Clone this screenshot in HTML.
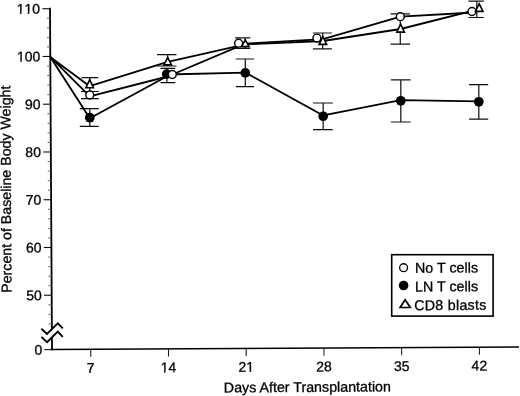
<!DOCTYPE html>
<html><head><meta charset="utf-8"><title>Body weight after transplantation</title>
<style>
html,body{margin:0;padding:0;background:#fff;}
body{width:520px;height:396px;overflow:hidden;font-family:"Liberation Sans",sans-serif;}
svg{display:block;}
</style></head><body>
<svg width="520" height="396" viewBox="0 0 520 396">
<defs><filter id="g" filterUnits="userSpaceOnUse" x="0" y="0" width="520" height="396"><feOffset dx="0" dy="0"/></filter></defs>
<rect width="520" height="396" fill="#fff"/>
<filter id="soft" filterUnits="userSpaceOnUse" x="0" y="0" width="520" height="396"><feGaussianBlur stdDeviation="0.4"/></filter>
<g filter="url(#soft)">
<g stroke="#000" fill="none">
<line x1="50.0" y1="7.8" x2="52.0" y2="350.3" stroke-width="1.8"/>
<line x1="51.1" y1="349.6" x2="519.0" y2="346.9" stroke-width="1.5"/>
</g>
<g stroke="#111" stroke-width="1.1">
<line x1="42.40" y1="8.70" x2="50.00" y2="8.70"/>
<line x1="42.68" y1="56.46" x2="50.28" y2="56.46"/>
<line x1="42.96" y1="104.22" x2="50.56" y2="104.22"/>
<line x1="43.24" y1="151.98" x2="50.84" y2="151.98"/>
<line x1="43.52" y1="199.74" x2="51.12" y2="199.74"/>
<line x1="43.80" y1="247.50" x2="51.40" y2="247.50"/>
<line x1="44.08" y1="295.26" x2="51.68" y2="295.26"/>
<line x1="44.40" y1="349.60" x2="52.00" y2="349.60"/>
</g>
<g stroke="#666" stroke-width="1">
<line x1="46.86" y1="18.25" x2="50.06" y2="18.25"/>
<line x1="46.91" y1="27.80" x2="50.11" y2="27.80"/>
<line x1="46.97" y1="37.36" x2="50.17" y2="37.36"/>
<line x1="47.03" y1="46.91" x2="50.23" y2="46.91"/>
<line x1="47.14" y1="66.01" x2="50.34" y2="66.01"/>
<line x1="47.19" y1="75.56" x2="50.39" y2="75.56"/>
<line x1="47.25" y1="85.12" x2="50.45" y2="85.12"/>
<line x1="47.31" y1="94.67" x2="50.51" y2="94.67"/>
<line x1="47.42" y1="113.77" x2="50.62" y2="113.77"/>
<line x1="47.47" y1="123.32" x2="50.67" y2="123.32"/>
<line x1="47.53" y1="132.88" x2="50.73" y2="132.88"/>
<line x1="47.59" y1="142.43" x2="50.79" y2="142.43"/>
<line x1="47.70" y1="161.53" x2="50.90" y2="161.53"/>
<line x1="47.75" y1="171.08" x2="50.95" y2="171.08"/>
<line x1="47.81" y1="180.64" x2="51.01" y2="180.64"/>
<line x1="47.87" y1="190.19" x2="51.07" y2="190.19"/>
<line x1="47.98" y1="209.29" x2="51.18" y2="209.29"/>
<line x1="48.03" y1="218.84" x2="51.23" y2="218.84"/>
<line x1="48.09" y1="228.40" x2="51.29" y2="228.40"/>
<line x1="48.15" y1="237.95" x2="51.35" y2="237.95"/>
<line x1="48.26" y1="257.05" x2="51.46" y2="257.05"/>
<line x1="48.31" y1="266.60" x2="51.51" y2="266.60"/>
<line x1="48.37" y1="276.16" x2="51.57" y2="276.16"/>
<line x1="48.43" y1="285.71" x2="51.63" y2="285.71"/>
<line x1="48.54" y1="304.81" x2="51.74" y2="304.81"/>
<line x1="48.59" y1="314.36" x2="51.79" y2="314.36"/>
<line x1="48.65" y1="323.92" x2="51.85" y2="323.92"/>
</g>
<g stroke="#111" stroke-width="1">
<line x1="90.75" y1="349.38" x2="90.75" y2="356.98"/>
<line x1="168.48" y1="348.93" x2="168.48" y2="356.53"/>
<line x1="246.21" y1="348.48" x2="246.21" y2="356.08"/>
<line x1="323.94" y1="348.03" x2="323.94" y2="355.63"/>
<line x1="401.67" y1="347.58" x2="401.67" y2="355.18"/>
<line x1="479.40" y1="347.13" x2="479.40" y2="354.73"/>
</g>
<polygon points="40,329 47,335.5 57.8,324.5 64,330 64,337 57.8,331.5 47,342.2 40,337" fill="#fff"/>
<g stroke="#000" stroke-width="1.9" fill="none" stroke-linejoin="miter">
<polyline points="41.4,328.7 47,334 57.8,323.3 62.8,328.3"/>
<polyline points="41.4,336.9 47,342.2 57.8,331.5 62.8,336.8"/>
</g>
<g font-family="Liberation Sans, sans-serif" font-size="14px" fill="#000" stroke="#000" stroke-width="0.3" filter="url(#g)">
<g transform="translate(40.00 13.70) rotate(-0.35)"><text text-anchor="end" style="font-kerning:none">110</text><rect x="-23.29" y="-2.05" width="3.25" height="2.75" fill="#fff" stroke="none"/><rect x="-18.40" y="-2.05" width="2.64" height="2.75" fill="#fff" stroke="none"/><rect x="-15.51" y="-2.05" width="3.25" height="2.75" fill="#fff" stroke="none"/><rect x="-10.61" y="-2.05" width="2.64" height="2.75" fill="#fff" stroke="none"/></g>
<g transform="translate(40.31 61.46) rotate(-0.35)"><text text-anchor="end" style="font-kerning:none">100</text><rect x="-23.29" y="-2.05" width="3.25" height="2.75" fill="#fff" stroke="none"/><rect x="-18.40" y="-2.05" width="2.64" height="2.75" fill="#fff" stroke="none"/></g>
<g transform="translate(40.62 109.22) rotate(-0.35)"><text text-anchor="end" style="font-kerning:none">90</text></g>
<g transform="translate(40.93 156.98) rotate(-0.35)"><text text-anchor="end" style="font-kerning:none">80</text></g>
<g transform="translate(41.24 204.74) rotate(-0.35)"><text text-anchor="end" style="font-kerning:none">70</text></g>
<g transform="translate(41.55 252.50) rotate(-0.35)"><text text-anchor="end" style="font-kerning:none">60</text></g>
<g transform="translate(41.86 300.26) rotate(-0.35)"><text text-anchor="end" style="font-kerning:none">50</text></g>
<g transform="translate(42.30 354.60) rotate(-0.35)"><text text-anchor="end" style="font-kerning:none">0</text></g>
<g transform="translate(90.75 372.68) rotate(-0.35)"><text text-anchor="middle" style="font-kerning:none">7</text></g>
<g transform="translate(168.48 372.23) rotate(-0.35)"><text text-anchor="middle" style="font-kerning:none">14</text><rect x="-7.72" y="-2.05" width="3.25" height="2.75" fill="#fff" stroke="none"/><rect x="-2.83" y="-2.05" width="2.64" height="2.75" fill="#fff" stroke="none"/></g>
<g transform="translate(246.21 371.78) rotate(-0.35)"><text text-anchor="middle" style="font-kerning:none">21</text><rect x="0.07" y="-2.05" width="3.25" height="2.75" fill="#fff" stroke="none"/><rect x="4.96" y="-2.05" width="2.64" height="2.75" fill="#fff" stroke="none"/></g>
<g transform="translate(323.94 371.33) rotate(-0.35)"><text text-anchor="middle" style="font-kerning:none">28</text></g>
<g transform="translate(401.67 370.88) rotate(-0.35)"><text text-anchor="middle" style="font-kerning:none">35</text></g>
<g transform="translate(479.40 370.43) rotate(-0.35)"><text text-anchor="middle" style="font-kerning:none">42</text></g>
<g transform="translate(307.40 391.90) rotate(-0.35)"><text text-anchor="middle" font-size="14.25px">Days After Transplantation</text></g>
<g transform="translate(10.90 189.20) rotate(-90.35)"><text text-anchor="middle" font-size="14.2px">Percent of Baseline Body Weight</text></g>
</g>
<g stroke="#000" stroke-width="1.85" fill="none" stroke-linejoin="round">
<polyline points="50.50,57.20 89.70,86.20 167.70,61.90 245.30,44.40 322.90,41.00 400.60,29.00 479.20,9.20"/>
<polyline points="50.50,57.20 89.80,96.40 167.60,76.50 245.30,43.70 323.00,39.10 400.50,16.70 474.00,12.47"/>
<polyline points="50.50,57.20 89.80,118.20 166.70,76.50 166.70,74.50 245.30,72.55 323.20,115.45 400.80,100.10 478.80,101.45"/>
</g>
<g stroke="#111" stroke-width="1.2" fill="none">
<path d="M81.4 77.6H98.3M81.4 91.5H98.3M89.8 77.6V91.5"/>
<path d="M157.0 54.7H176.5M157.0 66.0H176.5M167.7 54.7V66.0"/>
<path d="M235.0 37.8H250.3M235.0 48.3H250.3M245.0 37.8V48.3"/>
<path d="M312.9 33.0H331.9M312.9 48.8H331.9M322.7 33.0V48.8"/>
<path d="M390.6 13.9H410.0M390.6 44.2H410.0M400.3 13.9V44.2"/>
<path d="M468.5 1.2H483.8M468.5 17.5H483.8M476.8 1.2V17.5"/>
<path d="M81.0 91.5H98.8M81.0 98.6H98.8M89.8 91.5V98.6"/>
<path d="M79.8 108.6H98.8M79.8 126.4H98.8M89.8 108.6V126.4"/>
<path d="M160.5 68.3H175.3M160.5 82.7H175.3M166.9 68.3V82.7"/>
<path d="M235.8 59.0H254.0M235.8 86.7H254.0M245.3 59.0V86.7"/>
<path d="M313.0 103.0H332.8M313.0 129.7H332.8M323.2 103.0V129.7"/>
<path d="M390.9 79.8H410.6M390.9 122.0H410.6M400.8 79.8V122.0"/>
<path d="M469.0 84.7H488.2M469.0 119.2H488.2M478.8 84.7V119.2"/>
</g>
<g fill="#000">
<circle cx="89.8" cy="117.7" r="4.85"/>
<circle cx="166.7" cy="74.1" r="4.85"/>
<circle cx="245.3" cy="72.9" r="4.85"/>
<circle cx="323.2" cy="116.25" r="4.85"/>
<circle cx="400.8" cy="100.8" r="4.85"/>
<circle cx="478.8" cy="101.8" r="4.85"/>
</g>
<g fill="#fff" stroke="#000" stroke-width="1.4">
<circle cx="89.8" cy="95.0" r="3.95"/>
<circle cx="172.3" cy="74.5" r="3.95"/>
<circle cx="238.6" cy="43.2" r="3.95"/>
<circle cx="316.9" cy="38.1" r="3.95"/>
<circle cx="400.3" cy="16.7" r="3.95"/>
<circle cx="472.0" cy="11.5" r="3.95"/>
</g>
<g fill="#fff" stroke="#000" stroke-width="1.6" stroke-linejoin="miter">
<polygon points="89.7,79.7 93.5,87.8 85.9,87.8"/>
<polygon points="167.7,57.6 171.5,64.9 163.9,64.9"/>
<polygon points="245.3,39.8 249.1,46.6 241.5,46.6"/>
<polygon points="322.9,36.6 326.7,44.4 319.1,44.4"/>
<polygon points="400.6,24.2 404.4,32.1 396.8,32.1"/>
<polygon points="479.2,3.8 483.0,11.4 475.4,11.4"/>
</g>
<rect x="391.7" y="254.7" width="101.4" height="61.4" fill="#fff" stroke="#000" stroke-width="1.6"/>
<circle cx="403.6" cy="267.7" r="3.95" fill="#fff" stroke="#000" stroke-width="1.3"/>
<circle cx="403.6" cy="285.5" r="4.8" fill="#000"/>
<polygon points="405.1,299.8 410.3,307.5 400.1,307.5" fill="#fff" stroke="#000" stroke-width="1.7"/>
<g font-family="Liberation Sans, sans-serif" font-size="14.3px" fill="#000" stroke="#000" stroke-width="0.3" filter="url(#g)">
<g transform="translate(415.00 272.80) rotate(-0.35)"><text text-anchor="start">No T cells</text></g>
<g transform="translate(415.00 291.50) rotate(-0.35)"><text text-anchor="start">LN T cells</text></g>
<g transform="translate(414.20 310.20) rotate(-0.35)"><text text-anchor="start" textLength="72.2" lengthAdjust="spacing">CD8 blasts</text></g>
</g>
</g>
</svg>
</body></html>
